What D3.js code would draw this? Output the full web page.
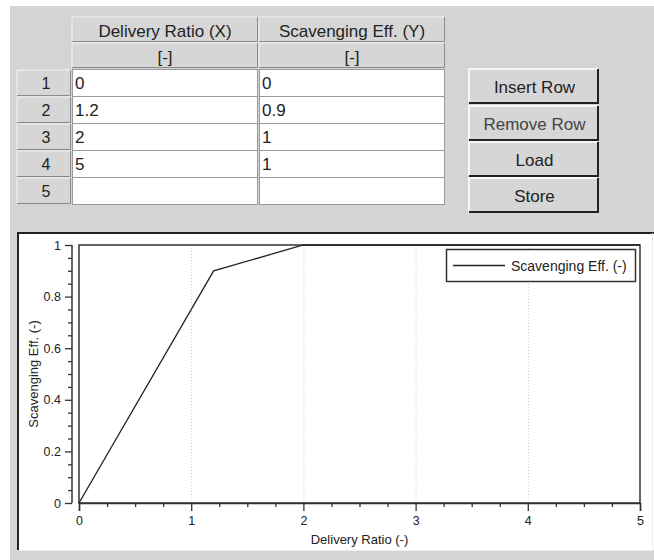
<!DOCTYPE html>
<html>
<head>
<meta charset="utf-8">
<script src="https://cdn.jsdelivr.net/npm/d3@7"></script>
<style>
  body { margin: 0; background: #fff; }
  text { font-family: "Liberation Sans", Arial, sans-serif; }
</style>
</head>
<body>
<script>
var deliveryRatio = [0, 1.2, 2, 5];
var scavengingEff = [0, 0.9, 1, 1];
var columnTitles = ["Delivery Ratio (X)", "Scavenging Eff. (Y)"];
var columnUnits = ["[-]", "[-]"];
var rowLabels = ["1", "2", "3", "4", "5"];
var buttonLabels = ["Insert Row", "Remove Row", "Load", "Store"];
var xTicks = [0, 1, 2, 3, 4, 5];
var yTicks = [0, 0.2, 0.4, 0.6, 0.8, 1];
var seriesName = "Scavenging Eff. (-)";
var xTitle = "Delivery Ratio (-)";
var yTitle = "Scavenging Eff. (-)";

var W = 654, H = 560;
var svg = d3.select("body").append("svg").attr("width", W).attr("height", H);

// window background
svg.append("rect").attr("x", 10).attr("y", 6).attr("width", W - 10).attr("height", H - 6).attr("fill", "#d4d4d4");

// ---- table ----
var colX = [72, 259], colW = 186;
var rowTop = 69, rowH = 27;

function raised(g, x, y, w, h) {
  g.append("rect").attr("x", x).attr("y", y).attr("width", w).attr("height", h).attr("fill", "#d6d6d6");
  g.append("path").attr("d", "M" + x + "," + (y + h) + "V" + y + "H" + (x + w))
    .attr("stroke", "#f4f4f4").attr("fill", "none");
  g.append("path").attr("d", "M" + (x + w - 0.5) + "," + y + "V" + (y + h - 0.5) + "H" + x)
    .attr("stroke", "#8a8a8a").attr("fill", "none");
}

var table = svg.append("g");
colX.forEach(function(cx, i) {
  raised(table, cx, 17, colW, 25);
  raised(table, cx, 43, colW, 25);
  table.append("text").attr("x", cx + colW / 2).attr("y", 37).attr("text-anchor", "middle")
    .attr("font-size", 17).attr("fill", "#222").text(columnTitles[i]);
  table.append("text").attr("x", cx + colW / 2).attr("y", 63).attr("text-anchor", "middle")
    .attr("font-size", 17).attr("fill", "#222").text(columnUnits[i]);
});

var tableRows = rowLabels.map(function(r, i) {
  return { label: r, x: deliveryRatio[i], y: scavengingEff[i] };
});

tableRows.forEach(function(d, i) {
  var y = rowTop + i * rowH;
  raised(table, 17, y + 1, 54, rowH - 1);
  table.append("text").attr("x", 46).attr("y", y + 20).attr("text-anchor", "middle")
    .attr("font-size", 16).attr("fill", "#222").text(d.label);
  [d.x, d.y].forEach(function(v, j) {
    table.append("rect").attr("x", colX[j] + 0.5).attr("y", y + 0.5).attr("width", colW - 1).attr("height", rowH)
      .attr("fill", "#fff").attr("stroke", "#9a9a9a");
    if (v !== undefined) {
      table.append("text").attr("x", colX[j] + 3).attr("y", y + 20)
        .attr("font-size", 17).attr("fill", "#222").text(String(v));
    }
  });
});

// ---- buttons ----
var btnY = [69, 106, 142, 178];
buttonLabels.forEach(function(b, i) {
  var x = 469, y = btnY[i], w = 129, h = 34;
  table.append("rect").attr("x", x).attr("y", y).attr("width", w).attr("height", h).attr("fill", "#d6d6d6");
  table.append("path").attr("d", "M" + x + "," + (y + h) + "V" + y + "H" + (x + w))
    .attr("stroke", "#f6f6f6").attr("stroke-width", 2).attr("fill", "none");
  table.append("path").attr("d", "M" + (x + w) + "," + y + "V" + (y + h) + "H" + x)
    .attr("stroke", "#222").attr("stroke-width", 2).attr("fill", "none");
  table.append("text").attr("x", x + w / 2 + 1).attr("y", y + 24).attr("text-anchor", "middle")
    .attr("font-size", 17).attr("fill", i == 1 ? "#444" : "#222").text(b);
});

// ---- chart panel ----
svg.append("rect").attr("x", 17).attr("y", 232).attr("width", W - 17).attr("height", 318).attr("fill", "#fff");
svg.append("path").attr("d", "M18,550V233H654").attr("stroke", "#222").attr("stroke-width", 2).attr("fill", "none");
svg.append("path").attr("d", "M18,550.5H652.5V233").attr("stroke", "#ececec").attr("stroke-width", 1).attr("fill", "none");

var x = d3.scaleLinear().domain([0, 5]).range([79, 640]);
var y = d3.scaleLinear().domain([0, 1]).range([503, 245]);

// vertical grid
svg.append("g").selectAll("line").data(xTicks.slice(1, -1)).enter().append("line")
  .attr("x1", function(d) { return x(d) + 0.5; }).attr("x2", function(d) { return x(d) + 0.5; })
  .attr("y1", y(1)).attr("y2", y(0))
  .attr("stroke", "#c8c8c8").attr("stroke-dasharray", "1,2");

// minor ticks
var xMinor = d3.range(0, 5.001, 0.25).filter(function(v) { return xTicks.indexOf(v) < 0; });
var yMinor = d3.range(0, 1.001, 0.05).map(function(v) { return +v.toFixed(2); })
  .filter(function(v) { return yTicks.indexOf(v) < 0; });

var xAxis = svg.append("g").attr("transform", "translate(0," + y(0) + ")")
  .call(d3.axisBottom(x).tickValues(xTicks).tickSize(8).tickPadding(5).tickFormat(d3.format("d")));
svg.append("g").attr("transform", "translate(0," + y(0) + ")")
  .call(d3.axisBottom(x).tickValues(xMinor).tickSize(4).tickFormat(""))
  .select(".domain").remove();

var yAxis = svg.append("g").attr("transform", "translate(72,0)")
  .call(d3.axisLeft(y).tickValues(yTicks).tickSize(7).tickPadding(4).tickFormat(function(d) { return String(d); }));
svg.append("g").attr("transform", "translate(72,0)")
  .call(d3.axisLeft(y).tickValues(yMinor).tickSize(4).tickFormat(""))
  .select(".domain").remove();

svg.selectAll(".domain").attr("stroke", "#333").attr("stroke-width", 1.5);
svg.selectAll(".tick line").attr("stroke", "#333").attr("stroke-width", 1.3);
svg.selectAll(".tick text").attr("font-family", "Liberation Sans, Arial, sans-serif")
  .attr("font-size", 12.5).attr("fill", "#222");
yAxis.select(".domain").attr("d", "M0," + y(1) + "V" + y(0));

// plot frame
svg.append("rect").attr("x", x(0)).attr("y", y(1)).attr("width", x(5) - x(0)).attr("height", y(0) - y(1))
  .attr("fill", "none").attr("stroke", "#333").attr("stroke-width", 1.5);

// series line
var pts = deliveryRatio.map(function(d, i) { return [d, scavengingEff[i]]; });
svg.append("path").datum(pts)
  .attr("d", d3.line().x(function(d) { return x(d[0]); }).y(function(d) { return y(d[1]); }))
  .attr("fill", "none").attr("stroke", "#222").attr("stroke-width", 1.3);

// legend
var lg = svg.append("g");
lg.append("rect").attr("x", 446.5).attr("y", 249.5).attr("width", 189).attr("height", 32)
  .attr("fill", "#fff").attr("stroke", "#333").attr("stroke-width", 1.5);
lg.append("line").attr("x1", 453).attr("x2", 505).attr("y1", 265.5).attr("y2", 265.5)
  .attr("stroke", "#222").attr("stroke-width", 1.3);
lg.append("text").attr("x", 511).attr("y", 270.5).attr("font-size", 14).attr("fill", "#222").text(seriesName);

// axis titles
svg.append("text").attr("x", (x(0) + x(5)) / 2).attr("y", 544).attr("text-anchor", "middle")
  .attr("font-size", 13).attr("fill", "#222").text(xTitle);
svg.append("text").attr("transform", "translate(38," + (y(0) + y(1)) / 2 + ") rotate(-90)")
  .attr("text-anchor", "middle").attr("font-size", 13).attr("fill", "#222").text(yTitle);
</script>
</body>
</html>
